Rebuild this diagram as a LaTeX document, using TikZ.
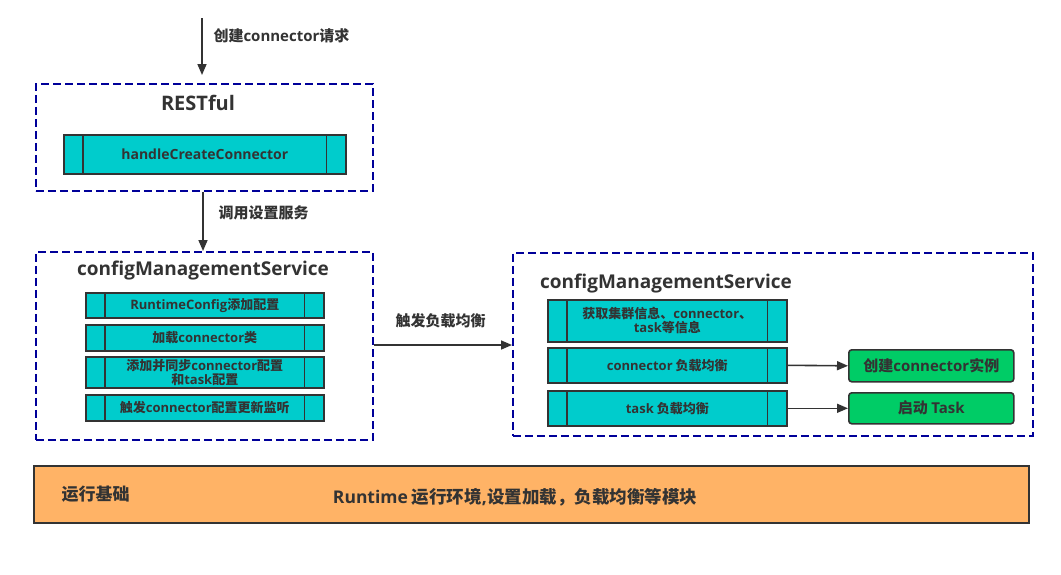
\documentclass[tikz,border=0pt]{standalone}
\usepackage{fontspec}
\setmainfont{Noto Sans CJK SC}
\newfontfamily\enfont{Open Sans}
\newcommand\E[1]{{\enfont #1}}
\usetikzlibrary{calc,arrows.meta}
\definecolor{navy}{RGB}{0,0,153}
\definecolor{cyanfill}{RGB}{0,204,204}
\definecolor{greenfill}{RGB}{0,204,102}
\definecolor{orangefill}{RGB}{255,179,102}
\definecolor{ink}{RGB}{51,51,51}
\tikzset{
  x=1pt,y=-1pt,
  every node/.style={text=ink,font=\bfseries},
  group/.style={draw=navy,line width=1.6pt,dash pattern=on 8pt off 4pt},
  itembox/.style={draw=ink,fill=cyanfill,line width=1.6pt,inner sep=0pt,align=center,font=\bfseries\fontsize{13}{14}\selectfont},
  itemline/.style={draw=ink,line width=1.6pt},
  resbox/.style={draw=ink,fill=greenfill,line width=1.6pt,rounded corners=3pt,inner sep=0pt,font=\bfseries\fontsize{15}{17}\selectfont},
  conn/.style={draw=ink,line width=1.6pt,-{Triangle[length=11pt,width=9pt]}},
  lbl/.style={font=\bfseries\fontsize{15}{17}\selectfont,anchor=west},
  title/.style={font=\bfseries\fontsize{19}{22}\selectfont},
}
\begin{document}
\begin{tikzpicture}
\useasboundingbox (0,0) rectangle (1061,574);
% groups
\node[group,minimum width=337pt,minimum height=107pt,anchor=north west] (rest) at (35,83) {};
\node[group,minimum width=337pt,minimum height=188pt,anchor=north west] (cmsl) at (35,251) {};
\node[group,minimum width=520pt,minimum height=183pt,anchor=north west] (cmsr) at (512,252) {};
\node[title,font=\bfseries\fontsize{20}{22}\selectfont] (resttitle) at (198,103) {\E{RESTful}};
\node[title] (cmsltitle) at (203,271) {\E{configManagementService}};
\node[title] (cmsrtitle) at (666,284) {\E{configManagementService}};
% top entry
\coordinate (start) at (202,18);
\draw[conn] (start) -- (202,75) coordinate (restin);
\node[lbl] (lblcreate) at (210,36) {创建\E{connector}请求};
% items
\node[itembox,font=\bfseries\fontsize{14}{15}\selectfont,minimum width=282pt,minimum height=39pt,anchor=north west] (handle) at (63,134) {\E{handleCreateConnector}};
\node[itembox,minimum width=238pt,minimum height=25pt,anchor=north west] (l1) at (85,292) {\E{RuntimeConfig}添加配置};
\node[itembox,minimum width=238pt,minimum height=26pt,anchor=north west] (l2) at (85,324) {加载\E{connector}类};
\node[itembox,minimum width=238pt,minimum height=31pt,anchor=north west] (l3) at (85,356) {添加并同步\E{connector}配置\\和\E{task}配置};
\node[itembox,minimum width=238pt,minimum height=26pt,anchor=north west] (l4) at (85,394) {触发\E{connector}配置更新监听};
\node[itembox,minimum width=239pt,minimum height=42pt,anchor=north west] (r1) at (547,299) {获取集群信息、\E{connector}、\\\E{task}等信息};
\node[itembox,minimum width=239pt,minimum height=35pt,anchor=north west] (r2) at (547,347) {\E{connector} 负载均衡};
\node[itembox,minimum width=239pt,minimum height=35pt,anchor=north west] (r3) at (547,390) {\E{task} 负载均衡};
\foreach \n in {handle,l1,l2,l3,l4,r1,r2,r3}{
  \draw[itemline] ($(\n.north west)+(20,0)$) -- ($(\n.south west)+(20,0)$);
  \draw[itemline] ($(\n.north east)+(-20,0)$) -- ($(\n.south east)+(-20,0)$);
}
% results
\node[resbox,minimum width=165pt,minimum height=32pt,anchor=north west] (g1) at (848,349) {创建\E{connector}实例};
\node[resbox,minimum width=165pt,minimum height=31pt,anchor=north west] (g2) at (848,392) {启动 \E{Task}};
% connectors
\draw[conn] (rest.south -| 203,0) -- (cmsl.north -| 203,0);
\node[lbl] (lblcall) at (215,213) {调用设置服务};
\draw[conn] (cmsl.east |- 0,345) -- (cmsr.west |- 0,345);
\node[lbl] (lbltrig) at (392,321) {触发负载均衡};
\draw[conn] (r2.east) -- (g1.west);
\draw[conn] (r3.east) -- (g2.west);
% base bar
\node[draw=ink,fill=orangefill,line width=1.6pt,minimum width=995pt,minimum height=57pt,anchor=north west] (base) at (33,465) {};
\node[font=\bfseries\fontsize{17}{19}\selectfont,anchor=west] (basetitle) at (58,494) {运行基础};
\node[font=\bfseries\fontsize{17.5}{19}\selectfont] (basetext) at (515,497) {\E{Runtime} 运行环境\E{,}设置加载，负载均衡等模块};
\end{tikzpicture}
\end{document}
